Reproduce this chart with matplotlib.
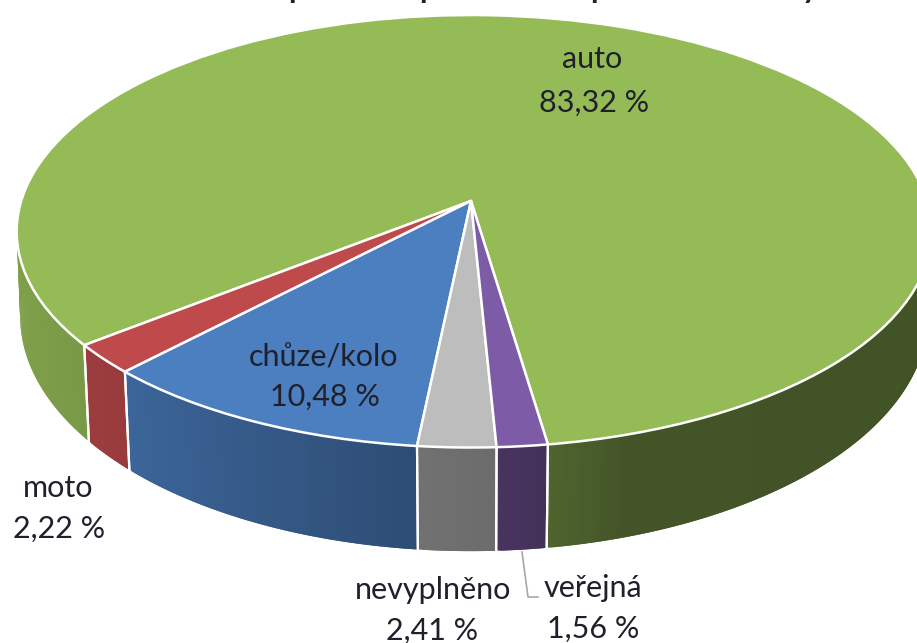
import numpy as np
import matplotlib
matplotlib.use("Agg")
import matplotlib.pyplot as plt
from matplotlib.transforms import Transform

categories = ["auto", "moto", "chůze/kolo", "nevyplněno", "veřejná"]
values = [83.32, 2.22, 10.48, 2.41, 1.56]
top_colors = ["#95bb57", "#bf4a4c", "#4b7fc0", "#bdbdbd", "#7d5ba6"]
label_pos = [(592, 59, 594, 103), (58, 488, 59, 529), (324, 357, 325, 397),
             (433, 590, 432, 631), (593, 588, 593, 629)]
title_bits = [(297, "p"), (428, "p"), (599, "p"), (810, "y")]

plt.rcParams["font.family"] = ["Lato", "DejaVu Sans"]
TXT = "#20202c"


class PieProjection(Transform):
    """Perspective view of a unit pie, output in pixel-like data units."""
    input_dims = 2
    output_dims = 2

    def __init__(self, cx, cy, bx, ay, k):
        super().__init__()
        self.p = (cx, cy, bx, ay, k)

    def transform_non_affine(self, values):
        values = np.asarray(values, dtype=float)
        cx, cy, bx, ay, k = self.p
        u, v = values[:, 0], -values[:, 1]
        den = 1 + k * v
        # slight left/right asymmetry of the 3D view
        return np.column_stack((cx + bx * (1 + 0.007 * u) * u / den, cy + ay * v / den))


top_proj = PieProjection(471, 201, 453, 212, -0.14)
bot_proj = PieProjection(471, 285, 450, 231, -0.132)

fig = plt.figure(figsize=(9.17, 6.43), dpi=100)
ax = fig.add_axes([0, 0, 1, 1])
wedges, _ = ax.pie(values, colors=top_colors, startangle=-81.6, counterclock=True,
                   wedgeprops=dict(edgecolor="white", linewidth=1.8, joinstyle="round"))
ax.set_aspect("auto")
ax.set_xlim(0, 917)
ax.set_ylim(643, 0)
ax.axis("off")

for w in wedges:
    w.set_transform(top_proj + ax.transData)
    w.set_zorder(5)


def shade(u):
    return np.interp(u, [-1.0, -0.7, -0.1, 0.1, 0.3, 1.0],
                     [0.86, 0.80, 0.60, 0.56, 0.45, 0.44])


for w, col in zip(wedges, top_colors):
    base = np.array(matplotlib.colors.to_rgb(col))
    th = np.radians(np.append(np.arange(w.theta1, w.theta2, 0.5), w.theta2))
    for i in range(len(th) - 1):
        t0, t1 = th[i], th[min(i + 2, len(th) - 1)]
        mid = 0.5 * (th[i] + th[i + 1])
        if np.sin(mid) > 0.25:
            continue
        ring = np.array([[np.cos(t0), np.sin(t0)], [np.cos(t1), np.sin(t1)]])
        a = top_proj.transform_non_affine(ring)
        b = bot_proj.transform_non_affine(ring)[::-1]
        c = np.clip(base * shade(np.cos(mid)), 0, 1)
        poly = np.vstack((a, b))
        ax.fill(poly[:, 0], poly[:, 1], color=c, lw=0, zorder=2)
    # white separators on the side wall
    for t in (w.theta1, w.theta2):
        r = np.radians(t)
        if np.sin(r) < -0.2:
            pt = np.array([[np.cos(r), np.sin(r)]])
            a, b = top_proj.transform_non_affine(pt)[0], bot_proj.transform_non_affine(pt)[0]
            ax.plot([a[0], b[0]], [a[1], b[1]], color="white", lw=1.6, zorder=3)

# leader line of the "veřejná" label
ax.plot([522, 528, 538], [552, 597, 597], color="#a8a8a8", lw=1.2, zorder=4)

for name, val, (x1, y1, x2, y2) in zip(categories, values, label_pos):
    ax.text(x1, y1, name, ha="center", va="center", fontsize=22, color=TXT, zorder=8)
    ax.text(x2, y2, f"{val:.2f} %".replace(".", ","), ha="center", va="center",
            fontsize=22, color=TXT, zorder=8)

# the chart title is cut off by the upper edge; only descenders remain
for x, s in title_bits:
    ax.text(x, -2, s, ha="center", va="baseline", fontsize=22, fontweight="bold",
            color="#222222", clip_on=True)

fig.savefig("out.png", dpi=100, facecolor="white")
